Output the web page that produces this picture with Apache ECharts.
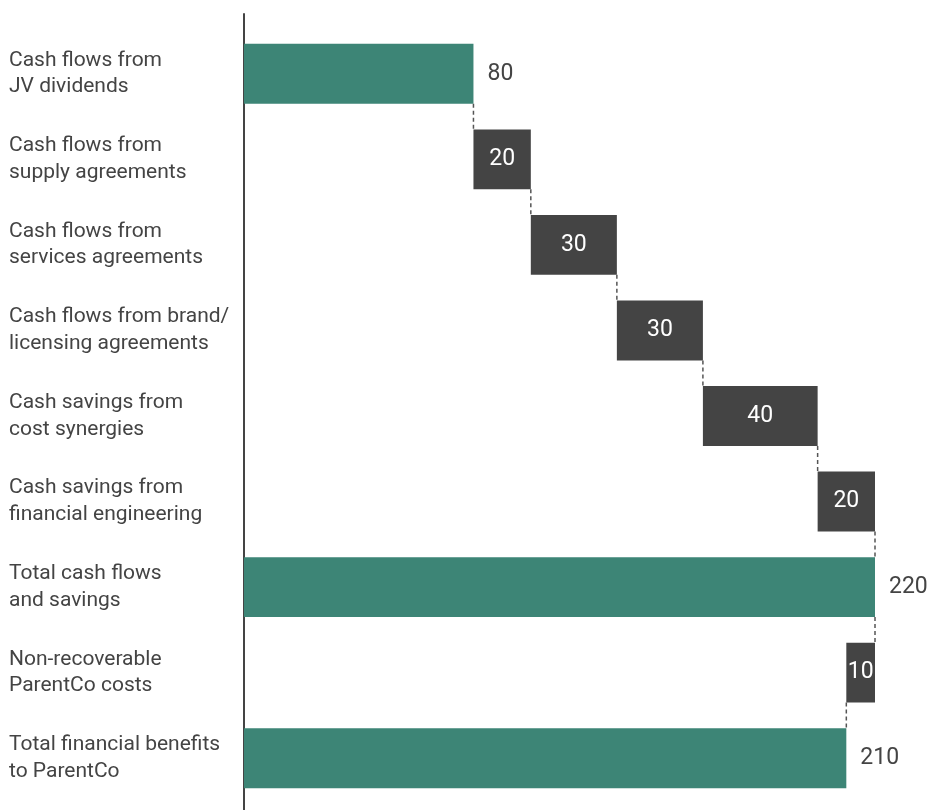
<!DOCTYPE html>
<html>
<head>
<meta charset="utf-8">
<script src="https://cdn.jsdelivr.net/npm/echarts@6/dist/echarts.min.js"></script>
<style>
html,body{margin:0;padding:0;background:#fff;}
#chart{width:931px;height:810px;}
</style>
</head>
<body>
<div id="chart"></div>
<script>
var categories = [
  'Cash flows from\nJV dividends',
  'Cash flows from\nsupply agreements',
  'Cash flows from\nservices agreements',
  'Cash flows from brand/\nlicensing agreements',
  'Cash savings from\ncost synergies',
  'Cash savings from\nfinancial engineering',
  'Total cash flows\nand savings',
  'Non-recoverable\nParentCo costs',
  'Total financial benefits\nto ParentCo'
];
var values = [80, 20, 30, 30, 40, 20, 220, -10, 210];
var isTotal = [true, false, false, false, false, false, true, false, true];

var GREEN = '#3d8576';
var DARK = '#444444';

var bases = [], sizes = [], levels = [];
var running = 0;
for (var i = 0; i < values.length; i++) {
  var v = values[i];
  if (isTotal[i]) {
    bases.push(0); sizes.push(v); running = v;
  } else if (v >= 0) {
    bases.push(running); sizes.push(v); running += v;
  } else {
    running += v; bases.push(running); sizes.push(-v);
  }
  levels.push(running);
}

var barData = sizes.map(function (s, i) {
  return {
    value: s,
    itemStyle: { color: isTotal[i] ? GREEN : DARK },
    label: isTotal[i]
      ? { show: true, position: 'right', distance: 14, color: '#444', fontSize: 23, padding: [3, 0, 0, 0] }
      : { show: true, position: 'inside', color: '#fff', fontSize: 23, padding: [2, 0, 0, 0] }
  };
});

var connData = [];
for (var j = 0; j < levels.length - 1; j++) connData.push([levels[j], j]);

var chart = echarts.init(document.getElementById('chart'), null, { renderer: 'canvas' });
chart.setOption({
  animation: false,
  textStyle: { fontFamily: 'Roboto' },
  grid: [
    { left: 244, right: 56, top: 31, bottom: 9 },
    { left: 244, right: 56, top: 14, bottom: 0 }
  ],
  xAxis: [
    { type: 'value', min: 0, max: 220, gridIndex: 0, show: false },
    { type: 'value', min: 0, max: 1, gridIndex: 1, show: false }
  ],
  yAxis: [
    {
      type: 'category', data: categories, inverse: true, gridIndex: 0,
      axisLine: { show: false }, axisTick: { show: false },
      axisLabel: {
        align: 'left', margin: 235, color: '#444', fontSize: 21,
        lineHeight: 26.7, fontFamily: 'Roboto', padding: [4, 0, 0, 0]
      }
    },
    {
      type: 'value', min: 0, max: 1, gridIndex: 1,
      axisLine: { show: true, lineStyle: { color: '#444', width: 2 } },
      axisTick: { show: false }, axisLabel: { show: false }, splitLine: { show: false }
    }
  ],
  series: [
    {
      type: 'bar', stack: 'w', data: bases, barWidth: '70%',
      itemStyle: { color: 'transparent' }, silent: true
    },
    {
      type: 'bar', stack: 'w', data: barData, barWidth: '70%',
      label: {
        fontFamily: 'Roboto',
        formatter: function (p) { return Math.abs(values[p.dataIndex]); }
      }
    },
    {
      type: 'custom', data: connData, silent: true, z: 5,
      renderItem: function (params, api) {
        var lvl = api.value(0), idx = api.value(1);
        var p1 = api.coord([lvl, idx]);
        var p2 = api.coord([lvl, idx + 1]);
        var band = api.size([0, 1])[1];
        var half = band * 0.35;
        return {
          type: 'line',
          shape: { x1: p1[0], y1: p1[1] + half, x2: p2[0], y2: p2[1] - half },
          style: { stroke: '#555', lineWidth: 1.5, lineDash: [4, 3] }
        };
      }
    }
  ]
});
</script>
</body>
</html>
